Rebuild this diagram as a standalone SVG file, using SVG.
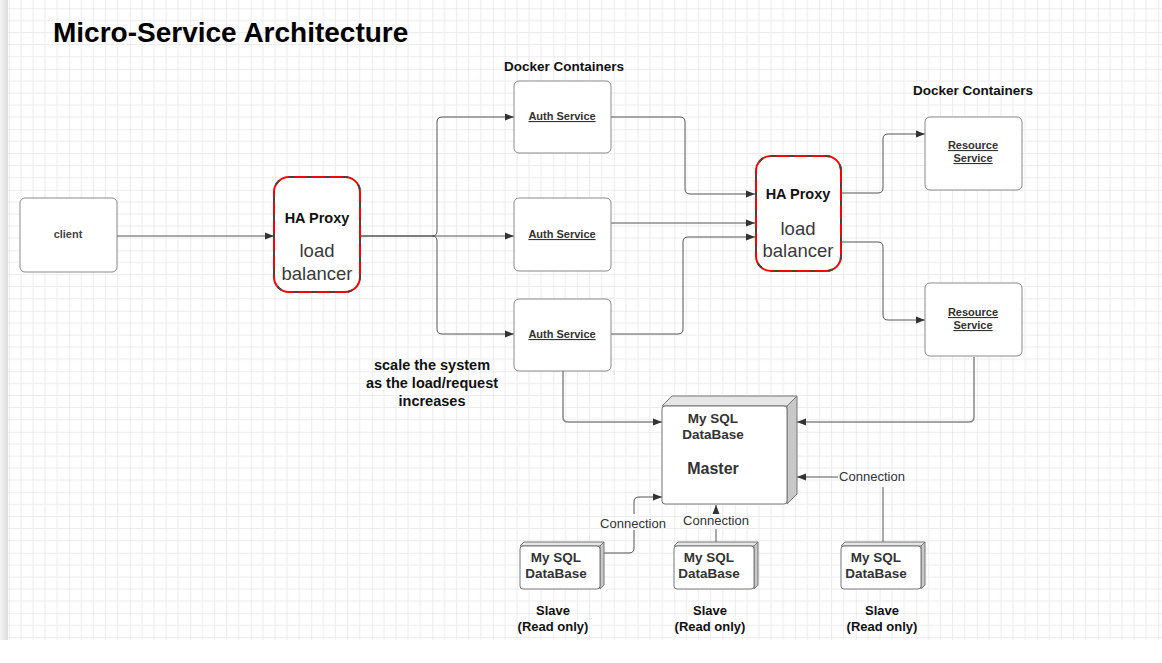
<svg xmlns="http://www.w3.org/2000/svg" width="1162" height="663" viewBox="0 0 1162 663">
<defs>
<pattern id="grid" patternUnits="userSpaceOnUse" x="8.8" y="8.3" width="60.5" height="60.5">
<path d="M12.1,0V60.5M24.2,0V60.5M36.3,0V60.5M48.4,0V60.5M0,12.1H60.5M0,24.2H60.5M0,36.3H60.5M0,48.4H60.5" stroke="#ececec" stroke-width="1" fill="none"/>
<path d="M0,0V60.5M0,0H60.5" stroke="#dcdcdc" stroke-width="1" fill="none"/>
</pattern>
<linearGradient id="bar" x1="0" y1="0" x2="1" y2="0">
<stop offset="0" stop-color="#f4f4f4"/>
<stop offset="1" stop-color="#dcdcdc"/>
</linearGradient>
<marker id="arr" markerUnits="userSpaceOnUse" markerWidth="10" markerHeight="8" refX="9" refY="4" orient="auto">
<path d="M0,0.5 L9,4 L0,7.5 z" fill="#333"/>
</marker>
<style>
text{font-family:"Liberation Sans",Arial,sans-serif;}
.box{fill:#fff;stroke:#8a8a8a;stroke-width:1;}
.lbl{font-size:11px;font-weight:bold;fill:#333;text-anchor:middle;text-decoration:underline;}
.b{font-weight:bold;text-anchor:middle;}
.ha{font-size:14.5px;font-weight:bold;fill:#111;text-anchor:middle;}
.lb{font-size:18.5px;fill:#3a3a3a;text-anchor:middle;}
.db{font-size:13.5px;font-weight:bold;fill:#333;text-anchor:middle;}
.con{font-size:13px;fill:#333;text-anchor:middle;}
.c{fill:none;stroke:#555;stroke-width:1;}
.c2{fill:none;stroke:#888;stroke-width:1.5;}
.red{fill:#fff;stroke:#f00;stroke-width:2;}
.dash{fill:none;stroke:#444;stroke-width:2;stroke-dasharray:5 13;}
.top{fill:#e6e6e6;stroke:#777;stroke-width:1;}
.side{fill:#c8c8c8;stroke:#777;stroke-width:1;}
.front{fill:#fff;stroke:#777;stroke-width:1;}
</style>
</defs>
<rect x="0" y="0" width="1162" height="663" fill="#fff"/>
<rect x="8" y="0" width="1154" height="640" fill="url(#grid)"/>
<rect x="0" y="0" width="8" height="640" fill="url(#bar)"/>

<text x="53" y="42" font-size="28" font-weight="bold" fill="#000">Micro-Service Architecture</text>

<g id="connectors">
<path class="c" d="M117,236 H274" marker-end="url(#arr)"/>
<path class="c" d="M360,236 H432 Q437,236 437,231 V122 Q437,117 442,117 H514" marker-end="url(#arr)"/>
<path class="c" d="M360,236 H514" marker-end="url(#arr)"/>
<path class="c" d="M432,236 Q437,236 437,241 V329 Q437,334 442,334 H514" marker-end="url(#arr)"/>
<path class="c" d="M611,117 H680 Q685,117 685,122 V189 Q685,194 690,194 H755" marker-end="url(#arr)"/>
<path class="c" d="M611,223 H755" marker-end="url(#arr)"/>
<path class="c" d="M611,334 H678 Q683,334 683,329 V242 Q683,237 688,237 H755" marker-end="url(#arr)"/>
<path class="c" d="M841,193 H878 Q883,193 883,188 V139 Q883,134 888,134 H925" marker-end="url(#arr)"/>
<path class="c" d="M841,242 H878 Q883,242 883,247 V315 Q883,320 888,320 H925" marker-end="url(#arr)"/>
<path class="c2" d="M563,371 V417 Q563,422 568,422 H662" marker-end="url(#arr)"/>
<path class="c2" d="M974,357 V417 Q974,422 969,422 H797" marker-end="url(#arr)"/>
<path class="c" d="M604,553 H629 Q634,553 634,548 V530"/>
<path class="c" d="M634,514 V502 Q634,497 639,497 H662" marker-end="url(#arr)"/>
<path class="c" d="M716,542 V529"/>
<path class="c" d="M716,513 V505" marker-end="url(#arr)"/>
<path class="c" d="M883,542 V487"/>
<path class="c" d="M838,477 H797" marker-end="url(#arr)"/>
<text class="con" x="633" y="528">Connection</text>
<text class="con" x="716" y="525">Connection</text>
<text class="con" x="872" y="481">Connection</text>
</g>

<g id="client">
<rect class="box" x="20" y="198" width="97" height="74" rx="5"/>
<text x="68" y="238" font-size="11" font-weight="bold" fill="#444" text-anchor="middle">client</text>
</g>

<g id="haproxy1">
<rect class="red" x="274" y="177" width="86" height="115" rx="15"/>
<rect class="dash" x="274" y="177" width="86" height="115" rx="15"/>
<text class="ha" x="317" y="223">HA Proxy</text>
<text class="lb" x="317" y="257">load</text>
<text class="lb" x="317" y="280">balancer</text>
</g>

<text x="564" y="71" font-size="13.5" class="b" fill="#111">Docker Containers</text>

<g id="auth1">
<rect class="box" x="514" y="81" width="97" height="72" rx="5"/>
<text class="lbl" x="562" y="120">Auth Service</text>
</g>
<g id="auth2">
<rect class="box" x="514" y="198" width="97" height="73" rx="5"/>
<text class="lbl" x="562" y="238">Auth Service</text>
</g>
<g id="auth3">
<rect class="box" x="514" y="299" width="97" height="72" rx="5"/>
<text class="lbl" x="562" y="338">Auth Service</text>
</g>

<g id="note">
<text x="432" y="370" font-size="14.5" class="b" fill="#111">scale the system</text>
<text x="432" y="388" font-size="14.5" class="b" fill="#111">as the load/request</text>
<text x="432" y="406" font-size="14.5" class="b" fill="#111">increases</text>
</g>

<g id="haproxy2">
<rect class="red" x="756" y="156" width="85" height="115" rx="15"/>
<rect class="dash" x="756" y="156" width="85" height="115" rx="15"/>
<text class="ha" x="798" y="199">HA Proxy</text>
<text class="lb" x="798" y="235">load</text>
<text class="lb" x="798" y="257">balancer</text>
</g>

<text x="973" y="95" font-size="13.5" class="b" fill="#111">Docker Containers</text>

<g id="resource1">
<rect class="box" x="925" y="117" width="97" height="73" rx="5"/>
<text class="lbl" x="973" y="149">Resource</text>
<text class="lbl" x="973" y="162">Service</text>
</g>
<g id="resource2">
<rect class="box" x="925" y="283" width="97" height="73" rx="5"/>
<text class="lbl" x="973" y="316">Resource</text>
<text class="lbl" x="973" y="329">Service</text>
</g>

<g id="master">
<path class="top" d="M662,406 L672,396 H797 L787,406 Z"/>
<path class="side" d="M787,406 L797,396 V494 L787,504 Z"/>
<rect class="front" x="662" y="406" width="125" height="98" rx="3"/>
<text class="db" x="713" y="423">My SQL</text>
<text class="db" x="713" y="439">DataBase</text>
<text x="713" y="474" font-size="16" class="b" fill="#333">Master</text>
</g>

<g id="slave1">
<path class="top" d="M520,546 L524,542 H604 L600,546 Z"/>
<path class="side" d="M600,546 L604,542 V585 L600,589 Z"/>
<rect class="front" x="520" y="546" width="80" height="43" rx="3"/>
<text class="db" x="556" y="562">My SQL</text>
<text class="db" x="556" y="578">DataBase</text>
<text x="553" y="615" font-size="13" class="b" fill="#111">Slave</text>
<text x="553" y="631" font-size="13" class="b" fill="#111">(Read only)</text>
</g>
<g id="slave2">
<path class="top" d="M674,546 L678,542 H758 L754,546 Z"/>
<path class="side" d="M754,546 L758,542 V585 L754,589 Z"/>
<rect class="front" x="674" y="546" width="80" height="43" rx="3"/>
<text class="db" x="709" y="562">My SQL</text>
<text class="db" x="709" y="578">DataBase</text>
<text x="710" y="615" font-size="13" class="b" fill="#111">Slave</text>
<text x="710" y="631" font-size="13" class="b" fill="#111">(Read only)</text>
</g>
<g id="slave3">
<path class="top" d="M841,546 L845,542 H925 L921,546 Z"/>
<path class="side" d="M921,546 L925,542 V585 L921,589 Z"/>
<rect class="front" x="841" y="546" width="80" height="43" rx="3"/>
<text class="db" x="876" y="562">My SQL</text>
<text class="db" x="876" y="578">DataBase</text>
<text x="882" y="615" font-size="13" class="b" fill="#111">Slave</text>
<text x="882" y="631" font-size="13" class="b" fill="#111">(Read only)</text>
</g>
</svg>
